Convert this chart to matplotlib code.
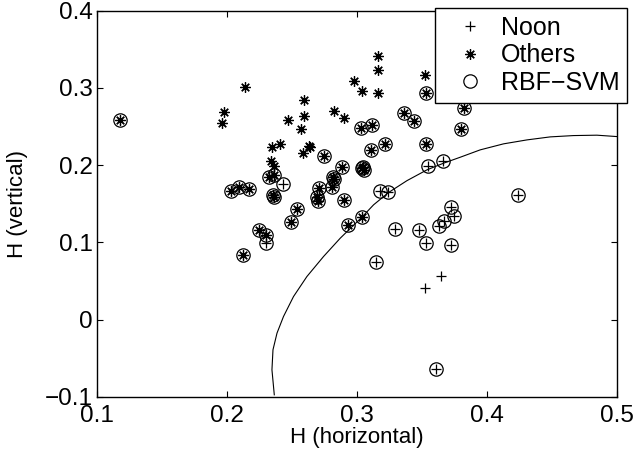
import numpy as np
import matplotlib
matplotlib.use("Agg")
import matplotlib.pyplot as plt
from matplotlib.lines import Line2D

plt.rcParams['font.family'] = ['Liberation Sans', 'DejaVu Sans']

# Noon samples (+), sv = circled by the RBF-SVM
noon_x = [0.243, 0.230, 0.318, 0.324, 0.355, 0.366, 0.329, 0.348, 0.353, 0.363,
          0.367, 0.372, 0.375, 0.372, 0.315, 0.361, 0.4235, 0.365, 0.3526]
noon_y = [0.176, 0.099, 0.167, 0.165, 0.199, 0.205, 0.117, 0.116, 0.099, 0.121,
          0.128, 0.146, 0.134, 0.097, 0.0745, -0.064, 0.1616, 0.056, 0.041]
noon_sv = [1] * 17 + [0, 0]

# Others samples (*)
others_x = [0.214, 0.198, 0.196, 0.247, 0.259, 0.259, 0.257, 0.282, 0.290, 0.298,
            0.316, 0.316, 0.304, 0.316, 0.3525, 0.235, 0.241, 0.263, 0.264, 0.2585,
            0.234, 0.236,
            0.118, 0.275, 0.232, 0.236, 0.203, 0.2095, 0.2166, 0.2354, 0.2359, 0.2705,
            0.2692, 0.2697, 0.2815, 0.282, 0.2808, 0.2885, 0.2902, 0.2538, 0.2495, 0.2243,
            0.230, 0.2123, 0.2928, 0.3531, 0.336, 0.3436, 0.303, 0.3115, 0.382, 0.380,
            0.3108, 0.3218, 0.3531, 0.3038, 0.3051, 0.3045, 0.3038]
others_y = [0.301, 0.269, 0.255, 0.259, 0.284, 0.263, 0.247, 0.270, 0.261, 0.309,
            0.341, 0.323, 0.296, 0.294, 0.317, 0.224, 0.228, 0.225, 0.224, 0.2155,
            0.206, 0.1995,
            0.2586, 0.212, 0.1845, 0.187, 0.167, 0.1715, 0.169, 0.1616, 0.1586, 0.170,
            0.159, 0.153, 0.185, 0.182, 0.172, 0.197, 0.155, 0.1435, 0.127, 0.116,
            0.110, 0.084, 0.123, 0.294, 0.267, 0.257, 0.248, 0.252, 0.274, 0.247,
            0.220, 0.228, 0.228, 0.196, 0.194, 0.198, 0.1327]
others_sv = [0] * 22 + [1] * 37

# decision boundary
bound_x = [0.2364, 0.2346, 0.2354, 0.2385, 0.2435, 0.2512, 0.2615, 0.2743, 0.2872,
           0.3038, 0.3128, 0.3243, 0.3385, 0.3538, 0.3667, 0.3795, 0.3948, 0.4128,
           0.4308, 0.4487, 0.4666, 0.4846, 0.5]
bound_y = [-0.0972, -0.0648, -0.0389, -0.0173, 0.0042, 0.030, 0.0559, 0.0818, 0.1056,
           0.1327, 0.1487, 0.1646, 0.180, 0.1939, 0.2026, 0.2103, 0.2198, 0.2276,
           0.2327, 0.2366, 0.2383, 0.2388, 0.237]

noon_x = np.array(noon_x); noon_y = np.array(noon_y); noon_sv = np.array(noon_sv, bool)
others_x = np.array(others_x); others_y = np.array(others_y); others_sv = np.array(others_sv, bool)
sv_x = np.concatenate([noon_x[noon_sv], others_x[others_sv]])
sv_y = np.concatenate([noon_y[noon_sv], others_y[others_sv]])

star = (8, 2, 0)

fig = plt.figure(figsize=(6.38, 4.54), dpi=100)
ax = fig.add_axes([0.152, 0.1256, 0.815, 0.851])

ax.plot(noon_x, noon_y, '+', color='k', markersize=7.5, markeredgewidth=0.9)
ax.plot(others_x, others_y, linestyle='none', marker=star, color='k', markersize=7.5, markeredgewidth=0.9)
ax.plot(sv_x, sv_y, 'o', markerfacecolor='none', markeredgecolor='k', markersize=9.6, markeredgewidth=0.9)
ax.plot(bound_x, bound_y, '-', color='k', linewidth=0.8)

ax.set_xlim(0.1, 0.5)
ax.set_ylim(-0.1, 0.4)
ax.set_xticks([0.1, 0.2, 0.3, 0.4, 0.5])
ax.set_yticks([-0.1, 0, 0.1, 0.2, 0.3, 0.4])
ax.set_xticklabels(['0.1', '0.2', '0.3', '0.4', '0.5'])
ax.set_yticklabels(['\u22120.1', '0', '0.1', '0.2', '0.3', '0.4'])
ax.tick_params(direction='in', top=True, right=True, length=4, width=0.8, labelsize=17.5, pad=3)
ax.tick_params(axis='x', pad=6)
for s in ax.spines.values():
    s.set_linewidth(1.0)

ax.set_xlabel('H (horizontal)', fontsize=16, labelpad=0)
ax.set_ylabel('H (vertical)', fontsize=16, labelpad=12)

handles = [Line2D([], [], linestyle='none', marker='+', color='k', markersize=7.5, markeredgewidth=0.9),
           Line2D([], [], linestyle='none', marker=star, color='k', markersize=7.5, markeredgewidth=0.9),
           Line2D([], [], linestyle='none', marker='o', markerfacecolor='none', markeredgecolor='k',
                  markersize=9.6, markeredgewidth=0.9)]
leg = ax.legend(handles, ['Noon', 'Others', 'RBF\u2212SVM'], loc='upper right',
                bbox_to_anchor=(0.983, 0.982), bbox_transform=fig.transFigure,
                borderaxespad=0, fontsize=18, fancybox=False, framealpha=1,
                edgecolor='k', borderpad=0.3, handlelength=2.2, handletextpad=0.13,
                labelspacing=0.15)
leg.get_frame().set_linewidth(1.0)

fig.savefig('out.png', dpi=100)
